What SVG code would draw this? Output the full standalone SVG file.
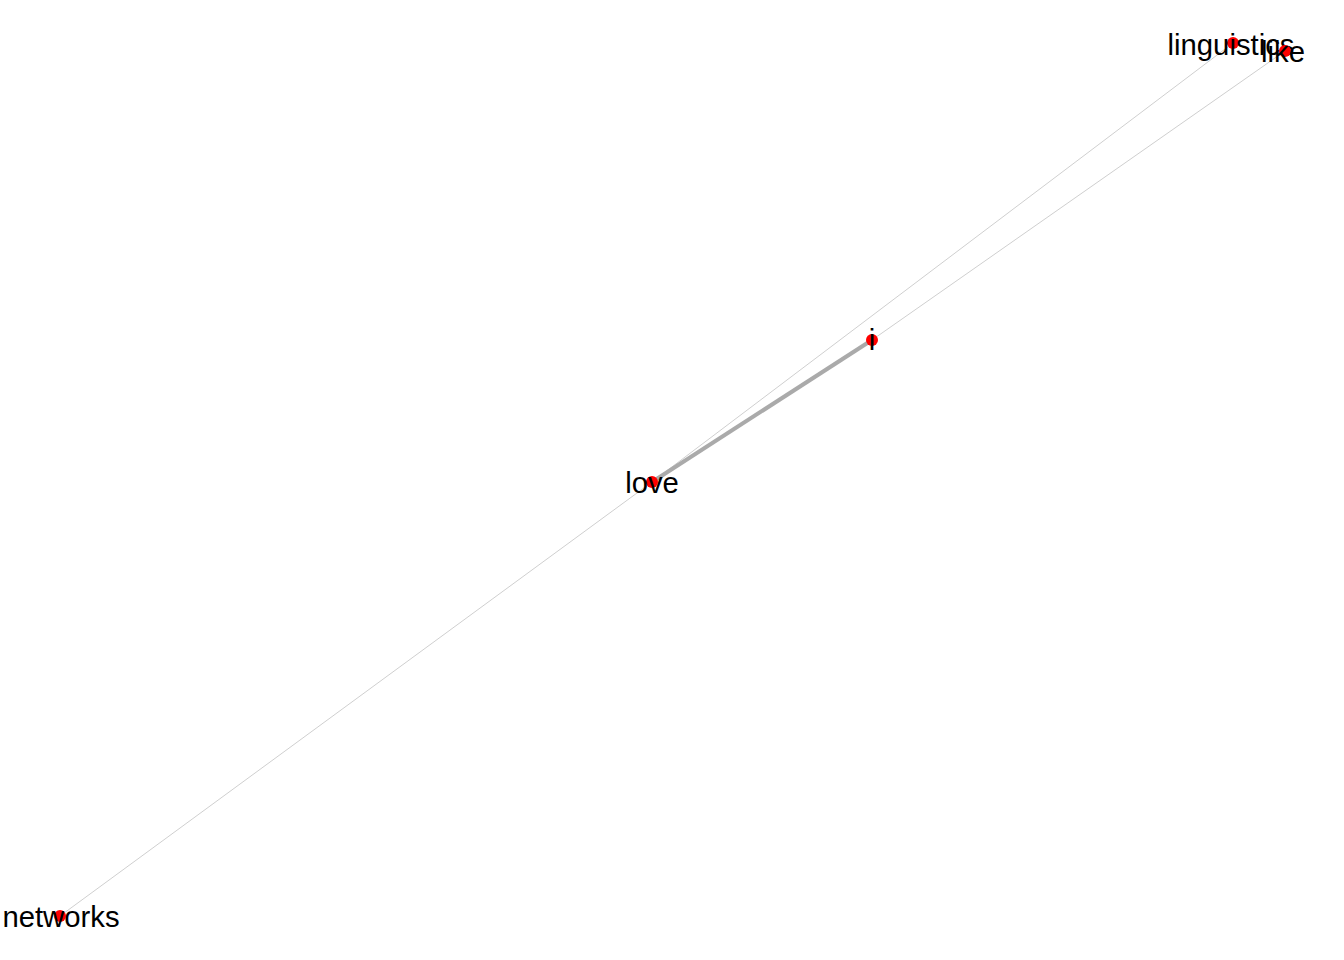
<svg xmlns="http://www.w3.org/2000/svg" width="1344" height="960" viewBox="0 0 1344 960">
<style>
.e{stroke:#cfcfcf;stroke-width:1;fill:none}
.ew{stroke:#aaaaaa;stroke-width:4;fill:none}
.n{fill:#ff0000}
.t{font-family:"Liberation Sans",Arial,sans-serif;font-size:29.3px;fill:#000;text-anchor:middle}
</style>
<rect width="1344" height="960" fill="#fff"/>
<g id="edges">
<line class="e" x1="652" y1="482" x2="1233" y2="43"/>
<line class="e" x1="872" y1="340" x2="1285" y2="51"/>
<line class="e" x1="652" y1="482" x2="60" y2="916"/>
<line class="ew" x1="652" y1="482" x2="872" y2="340"/>
</g>
<g id="node-i"><circle class="n" cx="872" cy="340" r="6"/><text class="t" x="872" y="350">i</text></g>
<g id="node-love"><circle class="n" cx="652" cy="482" r="6"/><text class="t" x="652" y="493">love</text></g>
<g id="node-networks"><circle class="n" cx="60" cy="916" r="6"/><text class="t" x="61" y="927">networks</text></g>
<g id="node-linguistics"><circle class="n" cx="1233" cy="43" r="6"/><text class="t" x="1231" y="55">linguistics</text></g>
<g id="node-like"><circle class="n" cx="1285" cy="51" r="6"/><text class="t" x="1283" y="62">like</text></g>
</svg>
